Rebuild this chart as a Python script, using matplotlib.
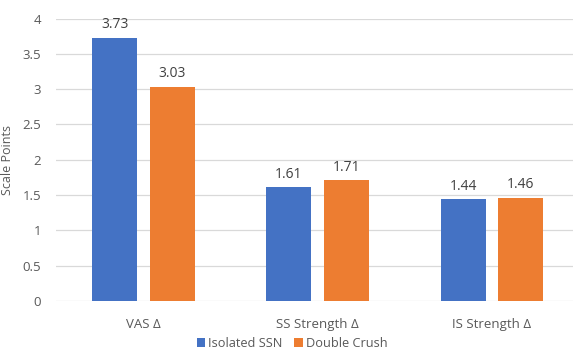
import matplotlib
matplotlib.use("Agg")
import matplotlib.pyplot as plt
import numpy as np

categories = ["VAS Δ", "SS Strength Δ", "IS Strength Δ"]
series_names = ["Isolated SSN", "Double Crush"]
isolated = [3.73, 1.61, 1.44]
double = [3.03, 1.71, 1.46]
yticks = [0, 0.5, 1, 1.5, 2, 2.5, 3, 3.5, 4]
ytick_labels = ["0", "0.5", "1", "1.5", "2", "2.5", "3", "3.5", "4"]

plt.rcParams['font.family'] = ['Open Sans', 'DejaVu Sans']

fig = plt.figure(figsize=(5.73, 3.51), dpi=100)
ax = fig.add_axes([0.0984, 0.1425, 0.9123, 0.8046])

x = np.arange(len(categories))
w = 0.258
off = 0.166
blue = "#4472C4"
orange = "#ED7D31"
b1 = ax.bar(x - off, isolated, w, color=blue, label=series_names[0], zorder=3)
b2 = ax.bar(x + off, double, w, color=orange, label=series_names[1], zorder=3)

for bars, vals in ((b1, isolated), (b2, double)):
    for r, v in zip(bars, vals):
        ax.text(r.get_x() + r.get_width() / 2, v + 0.08, f"{v:.2f}",
                ha="center", va="bottom", fontsize=10, color="#404040")

ax.set_xlim(-0.5, len(categories) - 0.5)
ax.set_ylim(0, 4)
ax.set_yticks(yticks)
ax.set_yticklabels(ytick_labels)
ax.set_xticks(x)
ax.set_xticklabels(categories)
ax.tick_params(axis="both", length=0, labelsize=9.5, colors="#595959")
ax.tick_params(axis="x", pad=12)
ax.tick_params(axis="y", pad=11)
ax.yaxis.grid(True, color="#D9D9D9", linewidth=0.9, zorder=0)
for s in ax.spines.values():
    s.set_visible(False)
ax.set_ylabel("Scale Points", fontsize=9, color="#595959", labelpad=6)

handles = [b1, b2]
fig.legend(handles, series_names, loc="center", bbox_to_anchor=(0.51, 0.022),
           ncol=2, frameon=False, fontsize=9.2, handlelength=0.65, handleheight=0.65,
           handletextpad=0.25, columnspacing=0.9, labelcolor="#595959")

fig.savefig("out.png", dpi=100)
